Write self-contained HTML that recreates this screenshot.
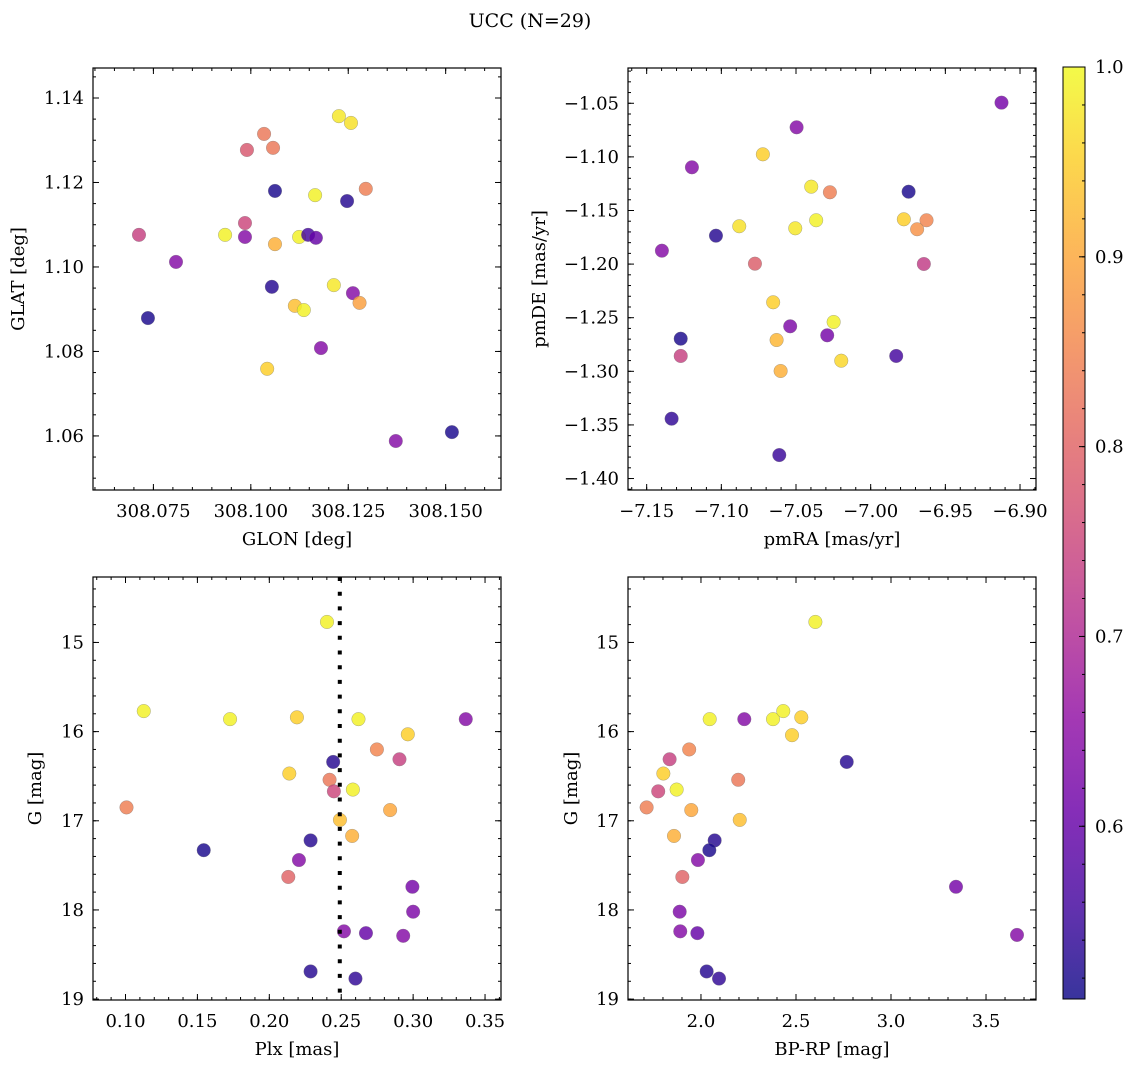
<!DOCTYPE html>
<html><head><meta charset="utf-8"><style>
html,body{margin:0;padding:0;background:#fff;}
svg{display:block;font-family:"DejaVu Serif","Liberation Serif",serif;}
</style></head><body>
<svg id="fig" width="1135" height="1067" viewBox="0 0 1135 1067">
<defs><linearGradient id="cbgrad" x1="0" y1="1" x2="0" y2="0"></linearGradient></defs>
<text x="530" y="27" text-anchor="middle" font-size="19">UCC (N=29)</text>
</svg>
<script>
// ---- data (each panel: x values, y values, membership probability) ----
const tlX=[308.1226,308.1257,308.1034,308.0990,308.1057,308.1062,308.1165,308.1247,308.1295,308.0985,308.0713,308.0934,308.0985,308.1062,308.1124,308.1147,308.1167,308.0808,308.1054,308.1213,308.1262,308.1279,308.1113,308.1136,308.0736,308.1180,308.1042,308.1372,308.1516];
const tlY=[1.1357,1.1341,1.1315,1.1277,1.1282,1.1180,1.1170,1.1156,1.1185,1.1104,1.1076,1.1076,1.1071,1.1054,1.1071,1.1076,1.1069,1.1012,1.0953,1.0957,1.0938,1.0915,1.0908,1.0898,1.0879,1.0808,1.0759,1.0588,1.0609];
const tlC=[0.98,0.97,0.83,0.78,0.83,0.52,0.99,0.53,0.84,0.75,0.74,0.99,0.64,0.91,0.99,0.56,0.60,0.64,0.53,0.98,0.64,0.89,0.93,0.99,0.52,0.64,0.95,0.64,0.52];
const trX=[-6.9124,-7.0496,-7.0722,-7.1197,-7.0398,-7.0273,-6.9746,-7.0880,-7.1036,-7.0505,-7.0365,-6.9778,-6.9626,-6.9689,-7.1398,-7.0775,-6.9644,-7.0653,-7.0539,-7.0248,-7.0291,-7.0630,-7.1272,-7.1272,-7.0197,-6.9829,-7.0603,-7.1333,-7.0612];
const trY=[-1.0494,-1.0724,-1.0976,-1.1097,-1.1278,-1.1330,-1.1325,-1.1647,-1.1735,-1.1666,-1.1591,-1.1582,-1.1591,-1.1675,-1.1875,-1.1996,-1.1999,-1.2356,-1.2580,-1.2540,-1.2664,-1.2708,-1.2696,-1.2857,-1.2901,-1.2857,-1.2997,-1.3442,-1.3781];
const trC=[0.62,0.64,0.95,0.64,0.98,0.84,0.52,0.97,0.53,0.98,0.99,0.95,0.85,0.87,0.64,0.79,0.73,0.95,0.63,0.99,0.62,0.92,0.52,0.74,0.96,0.56,0.91,0.54,0.55];
const blX=[0.2401,0.1127,0.1727,0.2192,0.2620,0.3366,0.2963,0.2748,0.2905,0.2444,0.2139,0.2419,0.2449,0.2581,0.1007,0.2840,0.2491,0.2576,0.2287,0.1544,0.2206,0.2132,0.2995,0.3000,0.2519,0.2672,0.2931,0.2287,0.2599];
const blY=[14.77,15.77,15.86,15.84,15.86,15.86,16.03,16.20,16.31,16.34,16.47,16.54,16.67,16.65,16.85,16.88,16.99,17.17,17.22,17.33,17.44,17.63,17.74,18.02,18.24,18.26,18.29,18.69,18.77];
const blC=[0.99,0.99,0.99,0.95,0.99,0.64,0.95,0.85,0.74,0.53,0.95,0.83,0.75,0.99,0.84,0.90,0.93,0.91,0.53,0.52,0.64,0.80,0.62,0.63,0.64,0.60,0.64,0.53,0.54];
const brX=[2.602,2.046,2.228,2.379,2.433,2.528,2.479,1.938,1.835,2.767,1.802,2.196,1.775,1.872,1.714,1.949,2.204,1.858,2.072,2.044,1.984,1.902,3.342,1.888,1.891,1.981,3.663,2.030,2.095];
const brY=[14.77,15.86,15.86,15.86,15.77,15.84,16.04,16.20,16.31,16.34,16.47,16.54,16.67,16.65,16.85,16.88,16.99,17.17,17.22,17.33,17.44,17.63,17.74,18.02,18.24,18.26,18.28,18.69,18.77];
const brC=[0.99,0.99,0.64,0.99,0.99,0.95,0.95,0.85,0.74,0.53,0.95,0.83,0.75,0.99,0.84,0.90,0.93,0.91,0.53,0.52,0.64,0.80,0.62,0.63,0.64,0.60,0.64,0.53,0.54];
const plxRef=[0.249];
const cbTicks=[0.6,0.7,0.8,0.9,1.0];
const cMin=0.509, cMax=1.0;

const NS="http://www.w3.org/2000/svg";
const svg=document.getElementById('fig');
const plasma=[[13,8,135],[65,4,157],[106,0,168],[143,13,164],[177,42,144],[204,71,120],[225,100,98],[242,132,75],[252,166,54],[252,206,37],[240,249,33]];
function cmap(v){let t=(v-cMin)/(cMax-cMin);t=Math.max(0,Math.min(1,t))*10;const i=Math.min(9,Math.floor(t)),f=t-i;const a=plasma[i],b=plasma[i+1];return 'rgb('+a.map((x,k)=>Math.round(x+(b[k]-x)*f)).join(',')+')';}
function mk(tag,attrs,parent){const e=document.createElementNS(NS,tag);for(const k in attrs)e.setAttribute(k,attrs[k]);(parent||svg).appendChild(e);return e;}
function fmt(v,d){const s=Math.abs(v).toFixed(d);return (v<-1e-9?'\u2212':'')+s;}
const FS=18;

function panel(p){
  const g=mk('g',{});
  
  
  const sx=v=>p.L+(v-p.x0)/(p.x1-p.x0)*(p.R-p.L);
  const sy=p.yInv?(v=>p.T+(v-p.y0)/(p.y1-p.y0)*(p.B-p.T)):(v=>p.B-(v-p.y0)/(p.y1-p.y0)*(p.B-p.T));
  const tg=mk('g',{stroke:'#000','stroke-width':1},g);
  const nmin=(a,b,s)=>{const r=[];for(let v=Math.ceil(a/s-1e-6)*s;v<=b+1e-9;v+=s)r.push(v);return r;};
  nmin(p.x0,p.x1,p.xMinor).forEach(v=>{const x=sx(v);mk('line',{x1:x,x2:x,y1:p.B,y2:p.B-3},tg);mk('line',{x1:x,x2:x,y1:p.T,y2:p.T+3},tg);});
  nmin(Math.min(p.y0,p.y1),Math.max(p.y0,p.y1),p.yMinor).forEach(v=>{const y=sy(v);mk('line',{x1:p.L,x2:p.L+3,y1:y,y2:y},tg);mk('line',{x1:p.R,x2:p.R-3,y1:y,y2:y},tg);});
  p.xt.forEach(v=>{const x=sx(v);mk('line',{x1:x,x2:x,y1:p.B,y2:p.B-6},tg);mk('line',{x1:x,x2:x,y1:p.T,y2:p.T+6},tg);
    const t=mk('text',{x:x,y:p.B+27,'text-anchor':'middle','font-size':FS},g);t.textContent=fmt(v,p.xd);
    
    });
  p.yt.forEach(v=>{const y=sy(v);mk('line',{x1:p.L,x2:p.L+6,y1:y,y2:y},tg);mk('line',{x1:p.R,x2:p.R-6,y1:y,y2:y},tg);
    const t=mk('text',{x:p.L-9,y:y+6,'text-anchor':'end','font-size':FS},g);t.textContent=fmt(v,p.yd);
    
    });
  const xl=mk('text',{x:(p.L+p.R)/2,y:p.B+55,'text-anchor':'middle','font-size':FS},g);xl.textContent=p.xlab;
  
  
  const yx=p.ylx, yy=(p.T+p.B)/2;
  const yl=mk('text',{x:yx,y:yy,'text-anchor':'middle','font-size':FS,transform:'rotate(-90 '+yx+' '+yy+')'},g);yl.textContent=p.ylab;
  
  
  const pg=mk('g',{},g);
  p.xs.forEach((xv,i)=>{const c=mk('circle',{cx:sx(xv),cy:sy(p.ys[i]),r:6.8,fill:cmap(p.cs[i]),'fill-opacity':0.82,stroke:'#777','stroke-width':0.5,'stroke-opacity':0.6},pg);
    
    });
  if(p.vline){p.vline.forEach(v=>{const l=mk('line',{x1:sx(v),x2:sx(v),y1:p.T,y2:p.B,stroke:'#000','stroke-width':4,'stroke-dasharray':'4 10.7'},g);
    
    });}
  const fr=mk('rect',{x:p.L,y:p.T,width:p.R-p.L,height:p.B-p.T,fill:'none',stroke:'#000','stroke-width':1.2},g);
  
  
}

panel({name:'glon-glat-panel',L:93,R:501,T:68,B:490,x0:308.0595,x1:308.1642,y0:1.0472,y1:1.1471,xt:[308.075,308.100,308.125,308.150],xd:3,xMinor:0.005,yt:[1.06,1.08,1.10,1.12,1.14],yd:2,yMinor:0.005,xlab:'GLON [deg]',ylab:'GLAT [deg]',ylx:24,xs:tlX,ys:tlY,cs:tlC});
panel({name:'pm-panel',L:628,R:1036,T:68,B:490,x0:-7.1625,x1:-6.8893,y0:-1.4107,y1:-1.0171,xt:[-7.15,-7.10,-7.05,-7.00,-6.95,-6.90],xd:2,xMinor:0.01,yt:[-1.40,-1.35,-1.30,-1.25,-1.20,-1.15,-1.10,-1.05],yd:2,yMinor:0.01,xlab:'pmRA [mas/yr]',ylab:'pmDE [mas/yr]',ylx:545,xs:trX,ys:trY,cs:trC});
panel({name:'plx-g-panel',L:93,R:501,T:577,B:1000,x0:0.0774,x1:0.3611,y0:14.266,y1:19.01,yInv:true,xt:[0.10,0.15,0.20,0.25,0.30,0.35],xd:2,xMinor:0.01,yt:[15,16,17,18,19],yd:0,yMinor:0.2,xlab:'Plx [mas]',ylab:'G [mag]',ylx:41,xs:blX,ys:blY,cs:blC,vline:plxRef});
panel({name:'cmd-panel',L:628,R:1036,T:577,B:1000,x0:1.616,x1:3.763,y0:14.266,y1:19.01,yInv:true,xt:[2.0,2.5,3.0,3.5],xd:1,xMinor:0.1,yt:[15,16,17,18,19],yd:0,yMinor:0.2,xlab:'BP-RP [mag]',ylab:'G [mag]',ylx:577,xs:brX,ys:brY,cs:brC});

const grad=document.getElementById('cbgrad');
for(let i=0;i<=20;i++){const v=cMin+(cMax-cMin)*i/20;mk('stop',{offset:(i/20),'stop-color':cmap(v),'stop-opacity':0.82},grad);}
const cb={L:1063,R:1085,T:67,B:999};
const cbg=mk('g',{});


mk('rect',{x:cb.L,y:cb.T,width:cb.R-cb.L,height:cb.B-cb.T,fill:'url(#cbgrad)',stroke:'#000','stroke-width':1},cbg);
const cy=v=>cb.B-(v-cMin)/(cMax-cMin)*(cb.B-cb.T);
for(let v=0.52;v<=1.0001;v+=0.02){const y=cy(v);mk('line',{x1:cb.R,x2:cb.R-3,y1:y,y2:y,stroke:'#000','stroke-width':1},cbg);}
cbTicks.forEach(v=>{const y=cy(v);mk('line',{x1:cb.R,x2:cb.R-6,y1:y,y2:y,stroke:'#000','stroke-width':1},cbg);
  const t=mk('text',{x:cb.R+10,y:y+6,'font-size':FS},cbg);t.textContent=v.toFixed(1);
  
  });
</script>
</body></html>
